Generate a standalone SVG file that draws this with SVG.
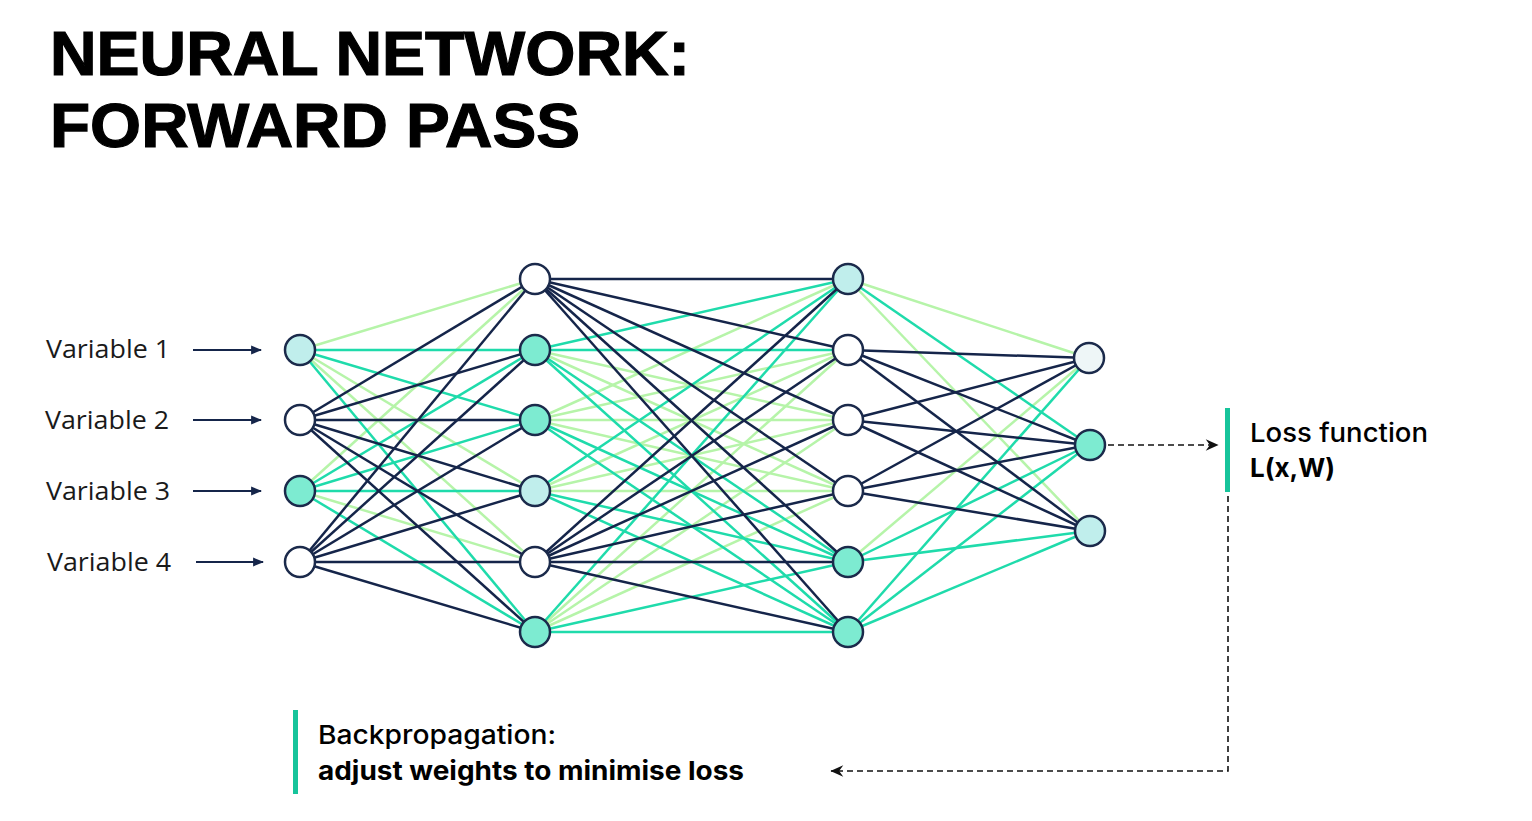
<svg xmlns="http://www.w3.org/2000/svg" width="1532" height="821" viewBox="0 0 1532 821">
<style>
.title{font-family:"Liberation Sans",Arial,sans-serif;font-weight:bold;font-size:63px;fill:#000;stroke:#000;stroke-width:1.2}
.var{font-family:"Open Sans","Liberation Sans",sans-serif;font-size:26px;fill:#1a1a1a}
.lab{font-family:Inter,"Liberation Sans",sans-serif;font-size:26px;fill:#000;font-weight:500}
.labb{font-family:Inter,"Liberation Sans",sans-serif;font-size:26px;fill:#000;font-weight:700}
.d{stroke:#15254a;stroke-width:2.5}
.t{stroke:#1fdbab;stroke-width:2.5}
.g{stroke:#b6f4a9;stroke-width:2.5}
.node circle{stroke:#1b2a4b;stroke-width:2.5}
.w{fill:#ffffff}
.tf{fill:#7debd1}
.lc{fill:#c0eeec}
.vl{fill:#eef6f7}
.dash{stroke:#111;stroke-width:1.6;stroke-dasharray:6 4;fill:none}
.bar{fill:#17c49b}
.inarrow{stroke:#15254a;stroke-width:2;marker-end:url(#ah)}
</style>
<defs>
<marker id="ah" viewBox="0 0 10 10" refX="9" refY="5" markerWidth="5.5" markerHeight="5.5" orient="auto" markerUnits="strokeWidth">
<path d="M0,1 L10,5 L0,9 z" fill="#15254a"/>
</marker>
<marker id="oh" viewBox="0 0 12 12" refX="11" refY="6" markerWidth="14" markerHeight="14" orient="auto" markerUnits="userSpaceOnUse">
<path d="M0.5,1 L11.5,6 L0.5,11 L4,6 z" fill="#111"/>
</marker>
</defs>
<rect width="1532" height="821" fill="#fff"/>
<g id="title">
<text class="title" x="50" y="75" textLength="640" lengthAdjust="spacingAndGlyphs">NEURAL NETWORK:</text>
<text class="title" x="50" y="147" textLength="530" lengthAdjust="spacingAndGlyphs">FORWARD PASS</text>
</g>
<g id="input-labels">
<text class="var" x="46" y="358" textLength="124" lengthAdjust="spacingAndGlyphs">Variable 1</text>
<text class="var" x="45" y="429" textLength="124" lengthAdjust="spacingAndGlyphs">Variable 2</text>
<text class="var" x="46" y="500" textLength="124" lengthAdjust="spacingAndGlyphs">Variable 3</text>
<text class="var" x="47" y="571" textLength="124" lengthAdjust="spacingAndGlyphs">Variable 4</text>
</g>
<g id="connectors">
<!-- input arrows -->
<line class="inarrow" x1="193" y1="350" x2="261" y2="350"/>
<line class="inarrow" x1="193" y1="420" x2="261" y2="420"/>
<line class="inarrow" x1="193" y1="491" x2="261" y2="491"/>
<line class="inarrow" x1="196" y1="562" x2="263" y2="562"/>
<!-- light green edges -->
<g class="g">
<line x1="300" y1="350" x2="535" y2="279"/>
<line x1="300" y1="350" x2="535" y2="491"/>
<line x1="300" y1="350" x2="535" y2="562"/>
<line x1="300" y1="491" x2="535" y2="279"/>
<line x1="300" y1="491" x2="535" y2="562"/>
<line x1="535" y1="350" x2="848" y2="420"/>
<line x1="535" y1="350" x2="848" y2="491"/>
<line x1="535" y1="420" x2="848" y2="279"/>
<line x1="535" y1="420" x2="848" y2="350"/>
<line x1="535" y1="420" x2="848" y2="420"/>
<line x1="535" y1="420" x2="848" y2="491"/>
<line x1="535" y1="491" x2="848" y2="350"/>
<line x1="535" y1="491" x2="848" y2="420"/>
<line x1="535" y1="491" x2="848" y2="491"/>
<line x1="535" y1="632" x2="848" y2="350"/>
<line x1="535" y1="632" x2="848" y2="420"/>
<line x1="535" y1="632" x2="848" y2="491"/>
<line x1="848" y1="279" x2="1089" y2="358"/>
<line x1="848" y1="279" x2="1089" y2="531"/>
<line x1="848" y1="562" x2="1089" y2="358"/>
</g>
<!-- teal edges -->
<g class="t">
<line x1="300" y1="350" x2="535" y2="350"/>
<line x1="300" y1="350" x2="535" y2="420"/>
<line x1="300" y1="350" x2="535" y2="632"/>
<line x1="300" y1="491" x2="535" y2="350"/>
<line x1="300" y1="491" x2="535" y2="420"/>
<line x1="300" y1="491" x2="535" y2="491"/>
<line x1="300" y1="491" x2="535" y2="632"/>
<line x1="535" y1="350" x2="848" y2="279"/>
<line x1="535" y1="350" x2="848" y2="350"/>
<line x1="535" y1="350" x2="848" y2="562"/>
<line x1="535" y1="350" x2="848" y2="632"/>
<line x1="535" y1="420" x2="848" y2="562"/>
<line x1="535" y1="420" x2="848" y2="632"/>
<line x1="535" y1="491" x2="848" y2="279"/>
<line x1="535" y1="491" x2="848" y2="562"/>
<line x1="535" y1="491" x2="848" y2="632"/>
<line x1="535" y1="632" x2="848" y2="279"/>
<line x1="535" y1="632" x2="848" y2="562"/>
<line x1="535" y1="632" x2="848" y2="632"/>
<line x1="848" y1="279" x2="1089" y2="445"/>
<line x1="848" y1="562" x2="1089" y2="445"/>
<line x1="848" y1="562" x2="1089" y2="531"/>
<line x1="848" y1="632" x2="1089" y2="358"/>
<line x1="848" y1="632" x2="1089" y2="445"/>
<line x1="848" y1="632" x2="1089" y2="531"/>
</g>
<!-- dark edges -->
<g class="d">
<line x1="300" y1="420" x2="535" y2="279"/>
<line x1="300" y1="420" x2="535" y2="350"/>
<line x1="300" y1="420" x2="535" y2="420"/>
<line x1="300" y1="420" x2="535" y2="491"/>
<line x1="300" y1="420" x2="535" y2="562"/>
<line x1="300" y1="420" x2="535" y2="632"/>
<line x1="300" y1="562" x2="535" y2="279"/>
<line x1="300" y1="562" x2="535" y2="350"/>
<line x1="300" y1="562" x2="535" y2="420"/>
<line x1="300" y1="562" x2="535" y2="491"/>
<line x1="300" y1="562" x2="535" y2="562"/>
<line x1="300" y1="562" x2="535" y2="632"/>
<line x1="535" y1="279" x2="848" y2="279"/>
<line x1="535" y1="279" x2="848" y2="350"/>
<line x1="535" y1="279" x2="848" y2="420"/>
<line x1="535" y1="279" x2="848" y2="491"/>
<line x1="535" y1="279" x2="848" y2="562"/>
<line x1="535" y1="279" x2="848" y2="632"/>
<line x1="535" y1="562" x2="848" y2="279"/>
<line x1="535" y1="562" x2="848" y2="350"/>
<line x1="535" y1="562" x2="848" y2="420"/>
<line x1="535" y1="562" x2="848" y2="491"/>
<line x1="535" y1="562" x2="848" y2="562"/>
<line x1="535" y1="562" x2="848" y2="632"/>
<line x1="848" y1="350" x2="1089" y2="358"/>
<line x1="848" y1="350" x2="1089" y2="445"/>
<line x1="848" y1="350" x2="1089" y2="531"/>
<line x1="848" y1="420" x2="1089" y2="358"/>
<line x1="848" y1="420" x2="1089" y2="445"/>
<line x1="848" y1="420" x2="1089" y2="531"/>
<line x1="848" y1="491" x2="1089" y2="358"/>
<line x1="848" y1="491" x2="1089" y2="445"/>
<line x1="848" y1="491" x2="1089" y2="531"/>
</g>
<!-- dashed loss / backprop connectors -->
<line class="dash" x1="1108" y1="445" x2="1218" y2="445" marker-end="url(#oh)"/>
<polyline class="dash" points="1228,496 1228,771 831,771" marker-end="url(#oh)"/>
</g>
<g id="layer0" class="node">
<circle class="lc" cx="300" cy="350" r="15"/>
<circle class="w" cx="300" cy="420" r="15"/>
<circle class="tf" cx="300" cy="491" r="15"/>
<circle class="w" cx="300" cy="562" r="15"/>
</g>
<g id="layer1" class="node">
<circle class="w" cx="535" cy="279" r="15"/>
<circle class="tf" cx="535" cy="350" r="15"/>
<circle class="tf" cx="535" cy="420" r="15"/>
<circle class="lc" cx="535" cy="491" r="15"/>
<circle class="w" cx="535" cy="562" r="15"/>
<circle class="tf" cx="535" cy="632" r="15"/>
</g>
<g id="layer2" class="node">
<circle class="lc" cx="848" cy="279" r="15"/>
<circle class="w" cx="848" cy="350" r="15"/>
<circle class="w" cx="848" cy="420" r="15"/>
<circle class="w" cx="848" cy="491" r="15"/>
<circle class="tf" cx="848" cy="562" r="15"/>
<circle class="tf" cx="848" cy="632" r="15"/>
</g>
<g id="layer3" class="node">
<circle class="vl" cx="1089" cy="358" r="15"/>
<circle class="tf" cx="1090" cy="445" r="15"/>
<circle class="lc" cx="1090" cy="531" r="15"/>
</g>
<g id="loss">
<rect class="bar" x="1225" y="408" width="5" height="84"/>
<text class="lab" x="1250" y="442" textLength="178" lengthAdjust="spacingAndGlyphs">Loss function</text>
<text class="labb" x="1250" y="477">L(x,W)</text>
</g>
<g id="backprop">
<rect class="bar" x="293" y="710" width="5" height="84"/>
<text class="lab" x="318" y="744" textLength="238" lengthAdjust="spacingAndGlyphs">Backpropagation:</text>
<text class="labb" x="318" y="780" textLength="426" lengthAdjust="spacingAndGlyphs">adjust weights to minimise loss</text>
</g>
</svg>
